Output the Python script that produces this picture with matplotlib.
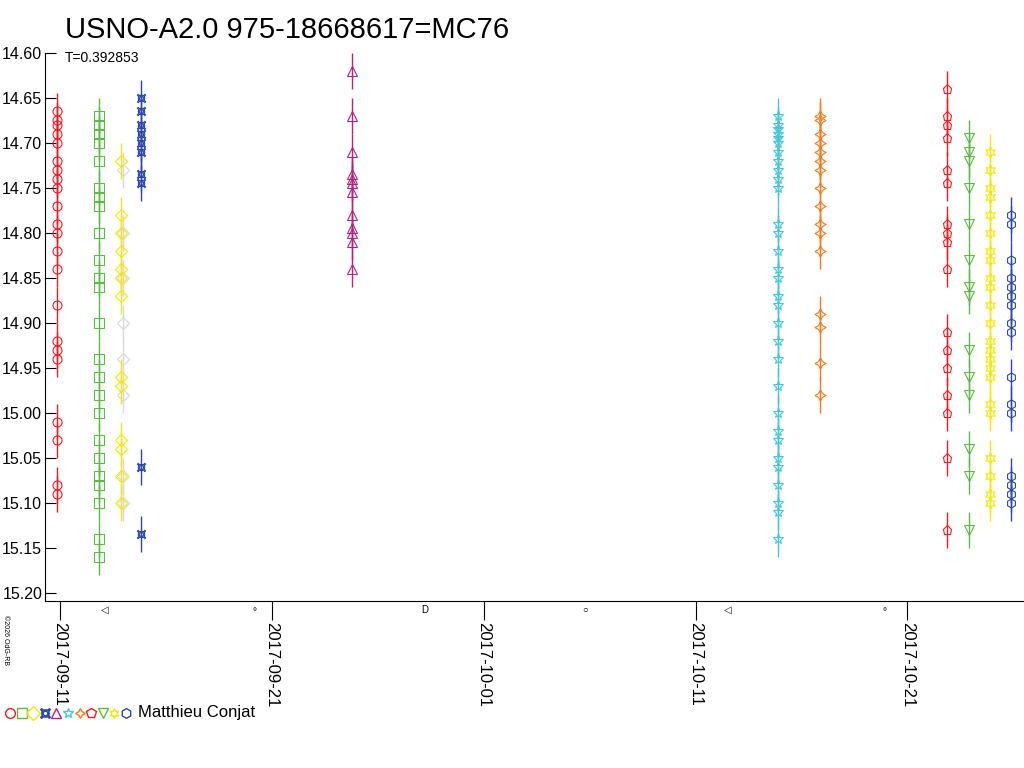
import matplotlib.pyplot as plt
from matplotlib.lines import Line2D

plt.rcParams['font.family'] = ['Liberation Sans', 'DejaVu Sans']

# day offsets from 2017-09-11 and magnitudes per series
red_c_x = -0.15
red_c = [14.665, 14.675, 14.68, 14.69, 14.70, 14.72, 14.73, 14.74, 14.75, 14.77, 14.79, 14.80,
         14.82, 14.84, 14.88, 14.92, 14.93, 14.94, 15.01, 15.03, 15.08, 15.09]
green_s_x = 1.85
green_s = [14.67, 14.68, 14.69, 14.70, 14.72, 14.75, 14.76, 14.77, 14.80, 14.83, 14.85, 14.86,
           14.90, 14.94, 14.96, 14.98, 15.00, 15.03, 15.05, 15.07, 15.08, 15.10, 15.14, 15.16]
yel_d_x = 2.9
yel_d = [14.72, 14.78, 14.80, 14.82, 14.84, 14.85, 14.87, 14.96, 14.97, 15.03, 15.04, 15.07, 15.10]
gray_d = [14.73, 14.80, 14.85, 14.90, 14.94, 14.98, 15.07, 15.10]
blue_x_x = 3.8
blue_x = [14.65, 14.665, 14.68, 14.69, 14.70, 14.71, 14.735, 14.745, 15.06, 15.135]
purp_t_x = 13.8
purp_t = [14.62, 14.67, 14.71, 14.735, 14.74, 14.745, 14.755, 14.78, 14.795, 14.80, 14.81, 14.84]
cyan_s_x = 33.9
cyan_s = [14.67, 14.68, 14.685, 14.69, 14.695, 14.70, 14.71, 14.72, 14.73, 14.74, 14.75, 14.79,
          14.80, 14.82, 14.84, 14.85, 14.87, 14.88, 14.90, 14.92, 14.94, 14.97, 15.00, 15.02,
          15.03, 15.05, 15.06, 15.08, 15.10, 15.11, 15.14]
orng_x = 35.85
orng = [14.67, 14.675, 14.69, 14.70, 14.71, 14.72, 14.73, 14.75, 14.77, 14.79, 14.80, 14.82,
        14.89, 14.905, 14.945, 14.98]
red_p_x = 41.85
red_p = [14.64, 14.67, 14.68, 14.695, 14.73, 14.745, 14.79, 14.80, 14.81, 14.84, 14.91, 14.93,
         14.95, 14.98, 15.00, 15.05, 15.13]
green_v_x = 42.9
green_v = [14.695, 14.71, 14.72, 14.75, 14.79, 14.83, 14.86, 14.87, 14.93, 14.96, 14.98, 15.04,
           15.07, 15.13]
yel_s_x = 43.9
yel_s = [14.71, 14.73, 14.75, 14.76, 14.78, 14.80, 14.82, 14.83, 14.85, 14.86, 14.88, 14.90,
         14.92, 14.93, 14.94, 14.95, 14.96, 14.99, 15.00, 15.05, 15.07, 15.09, 15.10]
blue_h_x = 44.9
blue_h = [14.78, 14.79, 14.83, 14.85, 14.86, 14.87, 14.88, 14.90, 14.91, 14.96, 14.99, 15.00,
          15.07, 15.08, 15.09, 15.10]

tick_days = [0, 10, 20, 30, 40]
tick_labels = ['2017-09-11', '2017-09-21', '2017-10-01', '2017-10-11', '2017-10-21']
moon_days = [2.1, 9.2, 17.2, 24.8, 31.5, 38.9]
moon_syms = ['◁', '∘', 'D', '○', '◁', '∘']

series = [
    (red_c_x, red_c, 'o', '#ee1c24'),
    (green_s_x, green_s, 's', '#5cb946'),
    (yel_d_x + 0.05, gray_d, 'D', '#d8d8d8'),
    (yel_d_x, yel_d, 'D', '#f5e60a'),
    (blue_x_x, blue_x, '$\u00a4$', '#2b47a8'),
    (purp_t_x, purp_t, '^', '#b0237f'),
    (cyan_s_x, cyan_s, '*', '#45c5d8'),
    (orng_x, orng, (4, 1, 0), '#f07a1e'),
    (red_p_x, red_p, 'p', '#ee1c24'),
    (green_v_x, green_v, 'v', '#5cb946'),
    (yel_s_x, yel_s, (6, 1, 0), '#f5e60a'),
    (blue_h_x, blue_h, 'h', '#2b47a8'),
]

fig = plt.figure(figsize=(10.24, 7.68), dpi=100)
ax = fig.add_axes([45 / 1024, 167 / 768, 979 / 1024, 548 / 768])
for x, ys, m, c in series:
    for y in ys:
        ax.errorbar([x], [y], yerr=0.02, fmt='none', ecolor=c, elinewidth=1)
    size = 6.5
    if m == '$\u00a4$':
        size = 6
    elif m in ('*', (4, 1, 0), (6, 1, 0)):
        size = 8
    ax.plot([x] * len(ys), ys, linestyle='none', marker=m, ms=size,
            mfc='none', mec=c, mew=0.8)

ax.set_xlim(-0.71, 45.5)
ax.set_ylim(15.209, 14.60)
ax.set_yticks([14.60 + 0.05 * i for i in range(13)])
ax.set_yticklabels(['%.2f' % (14.60 + 0.05 * i) for i in range(13)], fontsize=11.5)
ax.tick_params(axis='y', direction='in', length=8, pad=2)
ax.set_xticks(tick_days)
ax.set_xticklabels(tick_labels, rotation=-90, fontsize=12)
ax.tick_params(axis='x', direction='out', length=14, pad=1)
ax.spines['top'].set_visible(False)
ax.spines['right'].set_visible(False)
for d, s in zip(moon_days, moon_syms):
    ax.text(d, 15.213, s, ha='center', va='top', fontsize=7, clip_on=False)

fig.text(65 / 1024, 1 - 30 / 768, 'USNO-A2.0 975-18668617=MC76', fontsize=21, va='center')
fig.text(65 / 1024, 1 - 58 / 768, 'T=0.392853', fontsize=10, va='center')
fig.text(5 / 1024, 1 - 640 / 768, '©2026 OdG-RB', fontsize=5, rotation=-90, va='center', ha='center')

legend = [('o', '#ee1c24'), ('s', '#5cb946'), ('D', '#f5e60a'), ('$\u00a4$', '#2b47a8'),
          ('^', '#b0237f'), ('*', '#45c5d8'), ((4, 1, 0), '#f07a1e'), ('p', '#ee1c24'),
          ('v', '#5cb946'), ((6, 1, 0), '#f5e60a'), ('h', '#2b47a8')]
for i, (m, c) in enumerate(legend):
    fig.lines.append(Line2D([(10 + 11.6 * i) / 1024], [1 - 713 / 768], marker=m, ms=7,
                            mfc='none', mec=c, transform=fig.transFigure))
fig.text(138 / 1024, 1 - 713 / 768, 'Matthieu Conjat', fontsize=12, va='center')

fig.savefig('out.png', dpi=100)
